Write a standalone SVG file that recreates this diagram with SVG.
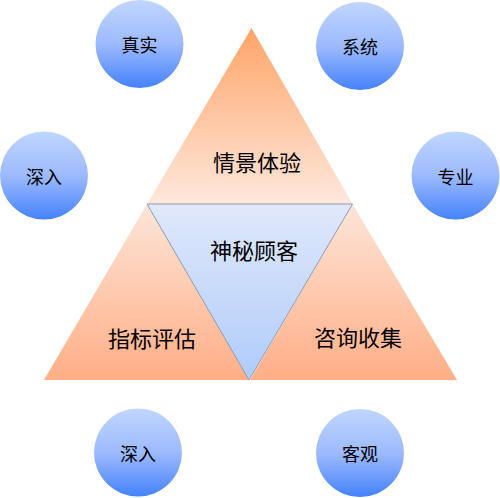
<svg xmlns="http://www.w3.org/2000/svg" width="500" height="498" viewBox="0 0 500 498">
<defs>
<linearGradient id="gTop" x1="0" y1="0" x2="0" y2="1">
<stop offset="0" stop-color="#FFA468"/>
<stop offset="1" stop-color="#FEE8DC"/>
</linearGradient>
<linearGradient id="gBot" x1="0" y1="0" x2="0" y2="1">
<stop offset="0" stop-color="#FDE5D8"/>
<stop offset="1" stop-color="#FFAE86"/>
</linearGradient>
<linearGradient id="gIn" x1="0" y1="0" x2="0" y2="1">
<stop offset="0" stop-color="#E0E8FB"/>
<stop offset="1" stop-color="#B0CCFA"/>
</linearGradient>
<linearGradient id="gC" x1="0" y1="0" x2="0" y2="1">
<stop offset="0" stop-color="#C0D6FF"/>
<stop offset="0.5" stop-color="#9DBAFD"/>
<stop offset="1" stop-color="#4482FB"/>
</linearGradient>
</defs>
<style>
.c{fill:url(#gC)}
.t{font-family:"Noto Sans CJK SC","Noto Sans",sans-serif;fill:#000;text-anchor:middle;dominant-baseline:central}
.ct{font-size:18px}
.tt{font-size:22px}
</style>
<g id="tri-top"><polygon points="251.5,28 147,204 352.5,204" fill="url(#gTop)"/><text class="t tt" x="257" y="161">情景体验</text></g>
<g id="tri-left"><polygon points="147,204 44,380 249,380" fill="url(#gBot)"/><text class="t tt" x="152" y="337">指标评估</text></g>
<g id="tri-right"><polygon points="352.5,204 250,380 457,380" fill="url(#gBot)"/><text class="t tt" x="358" y="336">咨询收集</text></g>
<g id="tri-center"><polygon points="147,204 352.5,204 249,380" fill="url(#gIn)" stroke="#8E9BAE" stroke-width="1"/><text class="t tt" x="254" y="249">神秘顾客</text></g>
<g id="c1"><circle class="c" cx="139.5" cy="44" r="44"/><text class="t ct" x="139.5" y="44">真实</text></g>
<g id="c2"><circle class="c" cx="360" cy="46" r="44"/><text class="t ct" x="360" y="46">系统</text></g>
<g id="c3"><circle class="c" cx="44" cy="175.5" r="44"/><text class="t ct" x="44" y="175.5">深入</text></g>
<g id="c4"><circle class="c" cx="455.5" cy="175.5" r="44"/><text class="t ct" x="455.5" y="175.5">专业</text></g>
<g id="c5"><circle class="c" cx="138" cy="452.5" r="44"/><text class="t ct" x="138" y="452.5">深入</text></g>
<g id="c6"><circle class="c" cx="360" cy="453" r="44"/><text class="t ct" x="360" y="453">客观</text></g>
<g id="connectors"/>
</svg>
